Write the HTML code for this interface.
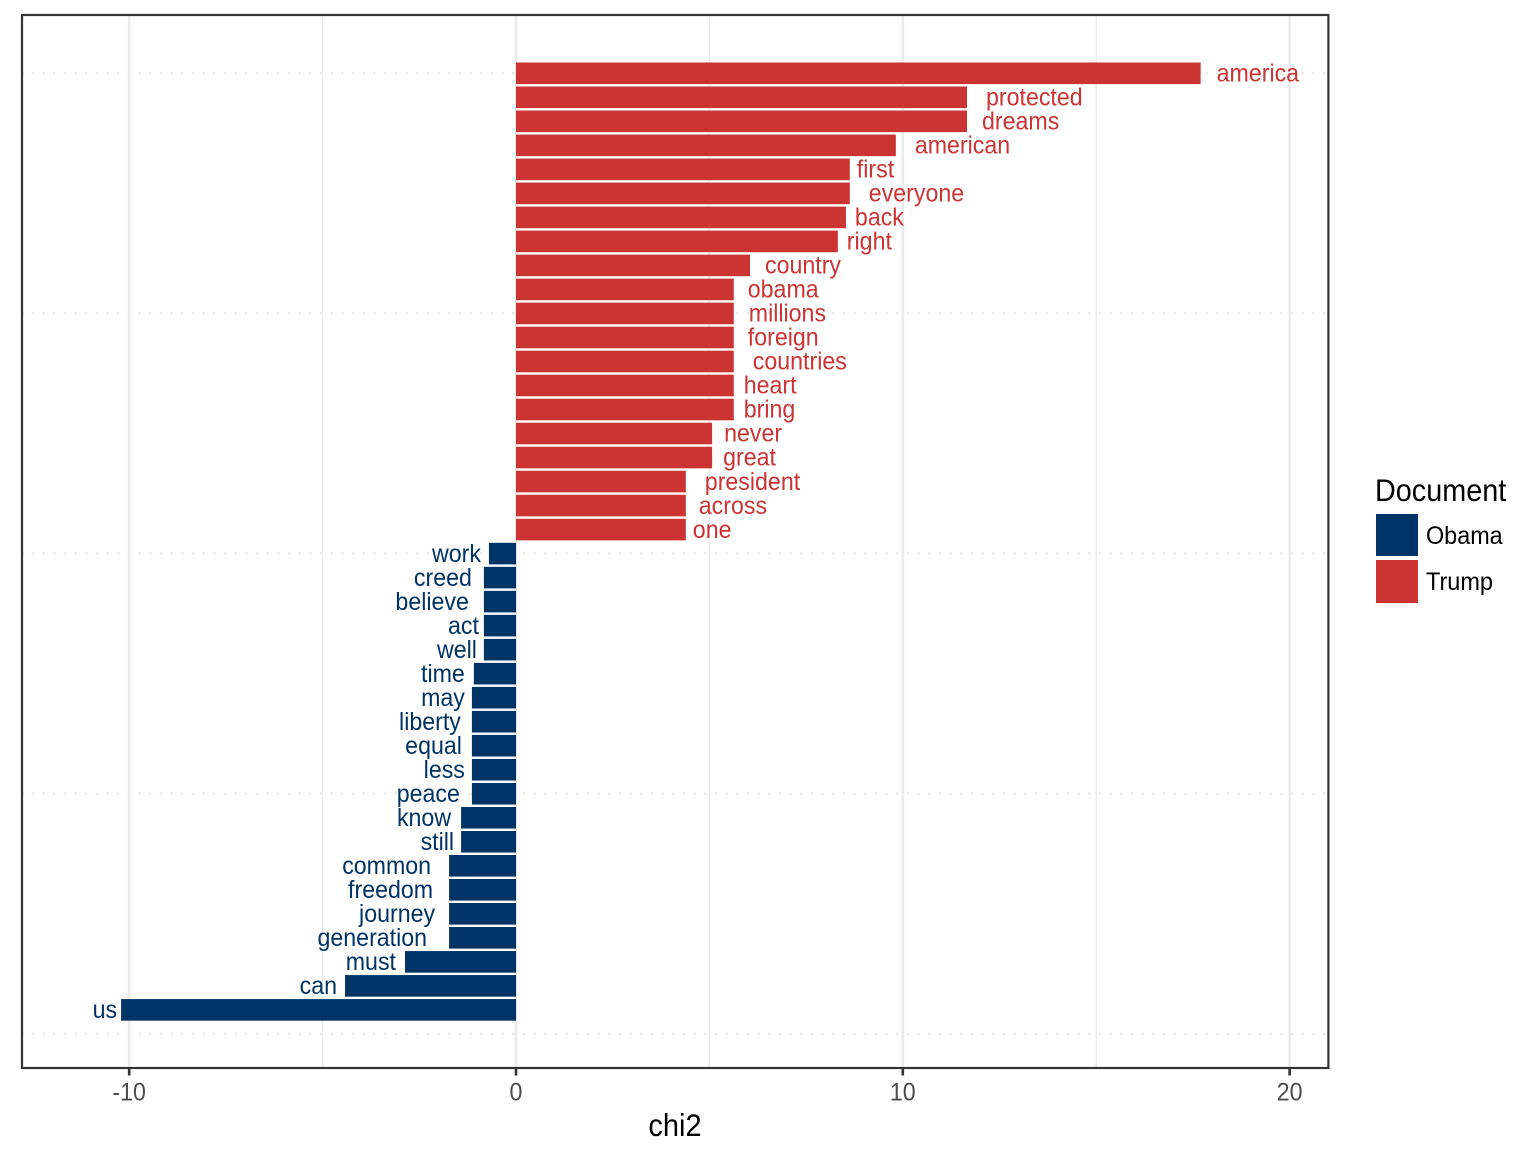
<!DOCTYPE html>
<html lang="en">
<head>
<meta charset="utf-8">
<title>Chi-squared keyness: Obama vs Trump</title>
<style>
html,body{margin:0;padding:0;background:#fff;}
svg{display:block;font-family:"Liberation Sans",Arial,sans-serif;}
</style>
</head>
<body>
<svg id="chart" xmlns="http://www.w3.org/2000/svg" width="1536" height="1152" viewBox="0 0 1536 1152">
  <rect x="0" y="0" width="1536" height="1152" fill="#ffffff"/>
  <g id="grid"></g>
  <g id="bars"></g>
  <g id="labels"></g>
  <rect x="22" y="15" width="1306.4" height="1053" fill="none" stroke="#333333" stroke-width="2.2"/>
  <g id="xaxis"></g>
  <text x="675" y="1136" font-size="29" text-anchor="middle" fill="#000" transform="translate(0 1136) scale(1 1.08) translate(0 -1136)">chi2</text>
  <g>
    <text x="1375" y="501" font-size="28.8" fill="#000" transform="translate(0 501) scale(1 1.08) translate(0 -501)">Document</text>
    <rect x="1376" y="514" width="42" height="42" fill="#003366"/>
    <text x="1426" y="544" font-size="23.4" fill="#000" transform="translate(0 544) scale(1 1.08) translate(0 -544)">Obama</text>
    <rect x="1376" y="560" width="42" height="43" fill="#CC3333"/>
    <text x="1426" y="590" font-size="23.5" fill="#000" transform="translate(0 590) scale(1 1.08) translate(0 -590)">Trump</text>
  </g>
</svg>
<script>
// Data, ordered bottom to top of the chart
const words = ["us","can","must","generation","journey","freedom","common","still","know","peace","less","equal","liberty","may","time","well","act","believe","creed","work",
  "one","across","president","great","never","bring","heart","countries","foreign","millions","obama","country","right","back","everyone","first","american","dreams","protected","america"];
const chi2 = [-10.21,-4.42,-2.87,-1.73,-1.73,-1.73,-1.73,-1.42,-1.42,-1.14,-1.14,-1.14,-1.14,-1.14,-1.09,-0.83,-0.83,-0.83,-0.83,-0.7,
  4.39,4.39,4.39,5.07,5.07,5.63,5.63,5.63,5.63,5.63,5.63,6.05,8.32,8.53,8.63,8.63,9.82,11.66,11.66,17.7];
const xTicks = [-10,0,10,20];
const xMinorTicks = [-5,5,15];
const yGridLevels = [0,10,20,30,40];
// Repelled label gap from the bar end, per word
const labelGap = [4,8,9,22,14,16,18,7,10,12,7,10,11,7,9,7,5,15,12,8,
  7,13,19,11,12,10,10,19,14,15,14,15,9,9,19,7,19,15,19,16];

const OBAMA = "#003366", TRUMP = "#CC3333";
const NS = "http://www.w3.org/2000/svg";
function x(v){ return 516 + 38.68 * v; }
function y(k){ return 1033.9 - 24.015 * k; }
function make(tag, attrs, parent){
  const el = document.createElementNS(NS, tag);
  for (const key in attrs) el.setAttribute(key, attrs[key]);
  parent.appendChild(el);
  return el;
}
function stretch(b){ return "translate(0 " + b + ") scale(1 1.08) translate(0 " + (-b) + ")"; }
const grid = document.getElementById("grid");
const barsG = document.getElementById("bars");
const labelsG = document.getElementById("labels");
const axisG = document.getElementById("xaxis");

xMinorTicks.forEach(function(t){
  const el = make("line", {x1:x(t), x2:x(t), y1:15, y2:1068, stroke:"#ebebeb", "stroke-width":1.3}, grid);
  
  
});
xTicks.forEach(function(t){
  const el = make("line", {x1:x(t), x2:x(t), y1:15, y2:1068, stroke:"#ebebeb", "stroke-width":2.6}, grid);
  
  
});
yGridLevels.forEach(function(k){
  const el = make("line", {x1:21, x2:1328, y1:y(k) - 0.2, y2:y(k) - 0.2, stroke:"#ebebeb", "stroke-width":2.6, "stroke-dasharray":"2.67 8"}, grid);
  
  
});

words.forEach(function(w, i){
  const k = i + 1, v = chi2[i], h = 21.6, col = v < 0 ? OBAMA : TRUMP;
  const bar = make("rect", {x:Math.min(x(0), x(v)), y:y(k) - h/2, width:Math.abs(x(v) - x(0)), height:h, fill:col}, barsG);
  
  
  const gap = labelGap[i];
  const base = y(k) + 8.2;
  const lab = make("text", {x:v < 0 ? x(v) - gap : x(v) + gap, y:base, "font-size":23.2, fill:col, "text-anchor":v < 0 ? "end" : "start", transform:stretch(base)}, labelsG);
  lab.textContent = w;
  
  
});

xTicks.forEach(function(t){
  const tick = make("line", {x1:x(t), x2:x(t), y1:1068, y2:1075.5, stroke:"#333333", "stroke-width":2.6}, axisG);
  
  
  const lab = make("text", {x:x(t), y:1100.5, "font-size":23.2, fill:"#4d4d4d", "text-anchor":"middle", transform:stretch(1100.5)}, axisG);
  lab.textContent = String(t);
  
  
});
</script>
</body>
</html>
